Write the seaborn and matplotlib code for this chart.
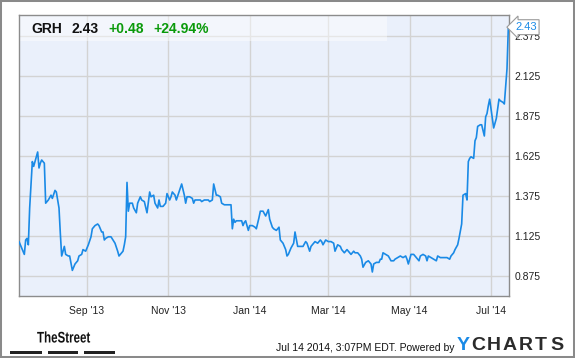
import seaborn as sns
import pandas as pd
import numpy as np
import matplotlib
matplotlib.use("Agg")
import matplotlib.pyplot as plt
import matplotlib.dates as mdates
from matplotlib.patches import Rectangle, PathPatch
from matplotlib.textpath import TextPath
from matplotlib.font_manager import FontProperties
from matplotlib.transforms import blended_transform_factory, Affine2D

# GRH closing prices (days counted from 2013-07-12)
start_date = "2013-07-12"
trade_day = [0, 2, 4, 5, 6, 7, 8, 9, 10, 11, 12, 14, 15, 16, 17, 19, 20, 22, 24, 25,
             27, 28, 30, 31, 32, 34, 35, 37, 38, 40, 42, 44, 45, 47, 48, 50, 52, 54, 55, 57,
             59, 60, 62, 63, 64, 65, 67, 69, 72, 74, 75, 76, 78, 79, 80, 81, 82, 83, 85, 86,
             88, 89, 91, 92, 94, 96, 98, 99, 101, 102, 104, 105, 106, 108, 110, 111, 113, 114, 115, 117,
             118, 120, 122, 124, 125, 126, 128, 130, 131, 132, 134, 136, 137, 139, 142, 143, 145, 146, 148, 149,
             151, 152, 154, 156, 158, 159, 160, 161, 162, 163, 165, 167, 168, 169, 170, 172, 173, 175, 177, 178,
             180, 181, 183, 185, 187, 188, 190, 191, 193, 195, 196, 198, 200, 201, 202, 204, 206, 207, 209, 211,
             213, 215, 216, 218, 219, 221, 222, 224, 226, 227, 228, 230, 232, 234, 236, 237, 239, 241, 242, 244,
             246, 247, 249, 251, 252, 254, 256, 257, 258, 260, 262, 264, 265, 266, 268, 270, 271, 272, 273, 275,
             277, 279, 281, 282, 284, 286, 288, 290, 291, 292, 294, 296, 298, 300, 301, 303, 305, 306, 307, 309,
             311, 313, 314, 316, 318, 319, 321, 323, 324, 326, 327, 329, 330, 332, 333, 335, 336, 337, 338, 339,
             341, 342, 343, 344, 346, 347, 349, 350, 351, 352, 353, 355, 356, 358, 359, 360, 361, 363, 364, 366,
             367]
close = [1.09, 1.05, 1.01, 1.10, 1.11, 1.07, 1.30, 1.45, 1.59, 1.56, 1.59, 1.65, 1.55, 1.58, 1.60, 1.58, 1.33, 1.35, 1.38, 1.36,
         1.41, 1.40, 1.30, 1.14, 1.00, 1.06, 1.01, 1.00, 1.00, 0.91, 0.95, 0.97, 1.00, 1.01, 1.04, 1.03, 1.07, 1.12, 1.17, 1.19,
         1.20, 1.19, 1.15, 1.15, 1.10, 1.11, 1.12, 1.12, 1.08, 1.03, 1.00, 1.01, 1.03, 1.07, 1.12, 1.46, 1.28, 1.33, 1.33, 1.30,
         1.27, 1.33, 1.37, 1.35, 1.34, 1.27, 1.40, 1.37, 1.38, 1.33, 1.30, 1.35, 1.31, 1.31, 1.33, 1.39, 1.35, 1.37, 1.40, 1.38,
         1.35, 1.40, 1.45, 1.38, 1.33, 1.37, 1.37, 1.36, 1.33, 1.35, 1.35, 1.35, 1.34, 1.35, 1.35, 1.34, 1.35, 1.45, 1.38, 1.38,
         1.37, 1.33, 1.32, 1.32, 1.32, 1.32, 1.17, 1.23, 1.21, 1.22, 1.22, 1.22, 1.19, 1.21, 1.22, 1.16, 1.19, 1.19, 1.18, 1.17,
         1.24, 1.28, 1.28, 1.25, 1.29, 1.23, 1.18, 1.17, 1.16, 1.18, 1.10, 1.08, 1.04, 1.00, 1.01, 1.05, 1.08, 1.15, 1.06, 1.06,
         1.06, 1.09, 1.08, 1.03, 1.06, 1.08, 1.09, 1.08, 1.10, 1.09, 1.07, 1.10, 1.09, 1.09, 1.08, 1.03, 1.07, 1.06, 1.04, 1.02,
         1.04, 1.03, 1.01, 1.03, 1.02, 1.02, 1.00, 0.98, 0.93, 0.96, 0.97, 0.95, 0.90, 0.95, 0.96, 0.96, 0.98, 0.98, 1.02, 1.01,
         1.00, 0.97, 0.97, 0.98, 0.99, 1.00, 0.99, 1.00, 0.98, 0.95, 1.01, 1.01, 0.99, 0.97, 1.00, 1.01, 1.00, 0.97, 1.00, 0.99,
         0.98, 0.97, 1.00, 0.99, 0.99, 0.99, 0.99, 0.98, 1.00, 1.02, 1.04, 1.07, 1.11, 1.20, 1.38, 1.39, 1.35, 1.59, 1.61, 1.62,
         1.61, 1.72, 1.74, 1.81, 1.82, 1.82, 1.75, 1.87, 1.89, 1.94, 1.98, 1.86, 1.80, 1.86, 1.92, 1.98, 1.97, 1.96, 1.95, 2.17,
         2.43]
y_ticks = [0.875, 1.125, 1.375, 1.625, 1.875, 2.125, 2.375]
header = [("GRH", "#111111"), ("2.43", "#111111"), ("+0.48", "#0a9a0a"), ("+24.94%", "#0a9a0a")]
last_price = "2.43"

df = pd.DataFrame({"date": pd.Timestamp(start_date) + pd.to_timedelta(trade_day, unit="D"),
                   "close": close})

sns.set_theme(style="white")
plt.rcParams['font.family'] = ['Liberation Sans', 'DejaVu Sans']

W, H = 575, 358
fig = plt.figure(figsize=(W / 100, H / 100), dpi=100)
fig.patch.set_facecolor("white")

def fx(px):
    return px / W

def fy(py):
    return 1 - py / H

ax = fig.add_axes([fx(19), fy(296), fx(509) - fx(19), fy(15) - fy(296)])
ax.set_facecolor("#eaf0fb")

sns.lineplot(data=df, x="date", y="close", ax=ax, color="#1a8ae6", lw=1.2,
             estimator=None, sort=False, zorder=3)

ax.set_xlim(pd.Timestamp(start_date), pd.Timestamp(start_date) + pd.Timedelta(days=367.5))
ax.set_ylim(0.75, 2.506)
ax.set_xlabel("")
ax.set_ylabel("")

ax.xaxis.set_major_locator(mdates.MonthLocator(bymonth=[1, 3, 5, 7, 9, 11]))
ax.xaxis.set_major_formatter(mdates.DateFormatter("%b '%y"))
ax.set_yticks(y_ticks)
ax.set_yticklabels([f"{v:.3f}" for v in y_ticks])
ax.yaxis.tick_right()
ax.tick_params(axis="both", length=0, labelsize=7.5, colors="#222222")
ax.tick_params(axis="x", pad=7)
ax.tick_params(axis="y", pad=4)

ax.grid(True, color="#d3d3d3", lw=1)
ax.set_axisbelow(True)
for s in ax.spines.values():
    s.set_color("#8c8c8c")
    s.set_linewidth(1)

# header band
ax.add_patch(Rectangle((0, 1 - 26 / 281), 368 / 490, 26 / 281, transform=ax.transAxes,
                       facecolor="white", alpha=0.45, edgecolor="none", zorder=1.5))
xs = [31, 72, 108, 153]
for (txt, col), x in zip(header, xs):
    fig.text(fx(x), fy(29), txt, color=col, fontsize=10, fontweight="bold", va="center", ha="left")

# last price tag
tr = blended_transform_factory(ax.transAxes, ax.transData)
ax.text(1 + 6 / 490, 2.43, last_price, transform=tr, color="#1a8ae6", fontsize=8,
        va="center", ha="left", clip_on=False, zorder=10,
        bbox=dict(boxstyle="larrow,pad=0.22", fc="white", ec="#9a9a9a", lw=0.8))

# footer: condensed "TheStreet" logo
tp = TextPath((0, 0), "TheStreet", size=15.4,
              prop=FontProperties(family="Liberation Sans", weight="bold"))
logo_tr = Affine2D().scale(0.75 / 100, 1 / 100).translate(37 / 100, (H - 342.5) / 100) + fig.dpi_scale_trans
fig.patches.append(PathPatch(tp, transform=logo_tr, fc="#111111", ec="none"))
for x0, x1 in [(10, 42), (48, 78), (84, 115)]:
    fig.patches.append(Rectangle((fx(x0), fy(354)), fx(x1) - fx(x0), 3.5 / H,
                                 transform=fig.transFigure, fc="#222222", ec="none"))
fig.text(fx(276), fy(348), "Jul 14 2014, 3:07PM EDT. Powered by", fontsize=7.5,
         color="#111111", va="center", ha="left")
for i, ch in enumerate("YCHARTS"):
    fig.text(fx(463 + i * 15.6), fy(346), ch, fontsize=14, fontweight="bold",
             color="#1a8ae6" if i == 0 else "#2b2b2b", va="center", ha="center")

fig.patches.append(Rectangle((0, 0), 1, 1, transform=fig.transFigure, fill=False,
                             edgecolor="#8a8a8a", lw=2.9))

fig.savefig("out.png", dpi=100)
